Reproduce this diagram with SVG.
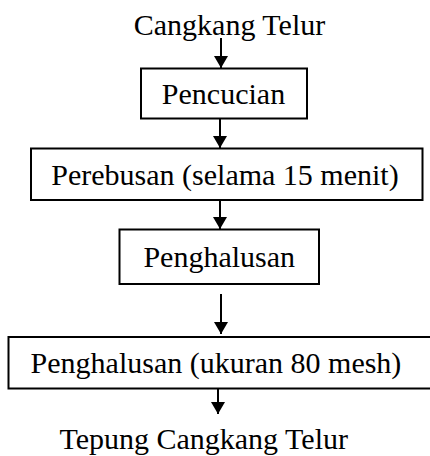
<svg xmlns="http://www.w3.org/2000/svg" width="430" height="456" viewBox="0 0 430 456">
<style>
text{font-family:"Liberation Serif","Times New Roman",serif;font-size:30px;fill:#000;text-anchor:middle}
.box{fill:#fff;stroke:#000;stroke-width:2}
.conn{stroke:#000;stroke-width:2;fill:none;marker-end:url(#ah)}
</style>
<defs>
<marker id="ah" markerWidth="12" markerHeight="14" refX="12" refY="7" orient="auto" markerUnits="userSpaceOnUse" viewBox="0 0 12 14">
<path d="M0,0 L12,7 L0,14 Z" fill="#000"/>
</marker>
</defs>
<rect width="430" height="456" fill="#fff"/>
<g id="connectors">
<line class="conn" x1="221" y1="38" x2="221" y2="68"/>
<line class="conn" x1="220" y1="119" x2="220" y2="148"/>
<line class="conn" x1="220" y1="200" x2="220" y2="229"/>
<line class="conn" x1="221" y1="294" x2="221" y2="334"/>
<line class="conn" x1="218" y1="389" x2="218" y2="414"/>
</g>
<g id="start"><text x="229.5" y="35">Cangkang Telur</text></g>
<g id="pencucian"><rect class="box" x="141" y="68.5" width="166" height="50"/><text x="223.5" y="104">Pencucian</text></g>
<g id="perebusan"><rect class="box" x="31" y="148.5" width="391.5" height="51.5"/><text x="225" y="185">Perebusan (selama 15 menit)</text></g>
<g id="penghalusan1"><rect class="box" x="119.5" y="229.5" width="199.5" height="54.5"/><text x="219.2" y="266.5">Penghalusan</text></g>
<g id="penghalusan2"><rect class="box" x="8.5" y="337" width="425" height="51.5"/><text x="216" y="373">Penghalusan (ukuran 80 mesh)</text></g>
<g id="end"><text x="203.7" y="449">Tepung Cangkang Telur</text></g>
</svg>
